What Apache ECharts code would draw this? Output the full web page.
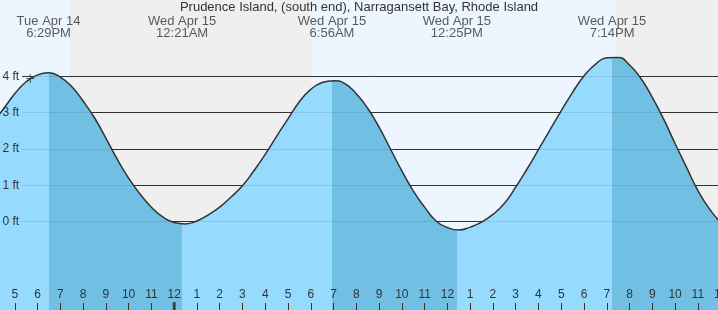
<!DOCTYPE html>
<html>
<head>
<meta charset="utf-8">
<script src="https://cdn.jsdelivr.net/npm/echarts@6/dist/echarts.min.js"></script>
<style>
html,body{margin:0;padding:0;background:#efefef;}
#chart{width:718px;height:310px;}
</style>
</head>
<body>
<div id="chart"></div>
<script>
// x values are hours since 4 PM, Tue Apr 14 (half-hour readings)
const titleText = 'Prudence Island, (south end), Narragansett Bay, Rhode Island';
const tideHours = [0, 0.5, 1, 1.5, 2, 2.5, 3, 3.5, 4, 4.5, 5, 5.5, 6, 6.5, 7, 7.5, 8, 8.5, 9, 9.5,
  10, 10.5, 11, 11.5, 12, 12.5, 13, 13.5, 14, 14.5, 15, 15.5, 16, 16.5, 17, 17.5, 18, 18.5, 19, 19.5,
  20, 20.5, 21, 21.5, 22, 22.5, 23, 23.5, 24, 24.5, 25, 25.5, 26, 26.5, 27, 27.5, 28, 28.5, 29, 29.5,
  30, 30.5, 31, 31.5, 32];
const tideFeet = [2.70, 3.10, 3.52, 3.85, 4.04, 4.10, 3.98, 3.72, 3.32, 2.86, 2.30, 1.72, 1.20, 0.76, 0.40, 0.13, -0.02, -0.06, 0.02, 0.19,
  0.40, 0.68, 0.99, 1.40, 1.85, 2.35, 2.83, 3.30, 3.64, 3.83, 3.88, 3.80, 3.52, 3.12, 2.60, 2.00, 1.40, 0.85, 0.40, 0.02,
  -0.16, -0.23, -0.15, -0.01, 0.20, 0.50, 0.95, 1.45, 1.98, 2.52, 3.05, 3.56, 4.01, 4.33, 4.51, 4.52, 4.31, 3.94, 3.42, 2.82,
  2.15, 1.50, 0.86, 0.36, -0.02];
const extremeHours = [2.483, 8.35, 14.933, 20.417, 27.233];
const extremeKinds = ['high', 'low', 'high', 'low', 'high'];
const extremeDays  = ['Tue Apr 14', 'Wed Apr 15', 'Wed Apr 15', 'Wed Apr 15', 'Wed Apr 15'];
const extremeTimes = ['6:29PM', '12:21AM', '6:56AM', '12:25PM', '7:14PM'];
const daylight = [[0, 3.38], [14.05, 27.42]];   // until sunset, then sunrise – sunset
const feetTicks = [0, 1, 2, 3, 4];
const midnightHours = [8];
const nowMarker = [1.68, 3.94];

const X_MIN = 0, X_MAX = 32, Y_MIN = -2.429, Y_MAX = 6.099;
const LIGHT = '#96dbfe', DARK = '#71c0e4', DAYBG = '#edf6fe', NIGHTBG = '#efefef', INK = '#333333';

const pieces = [];
let prev = X_MIN;
extremeHours.forEach((h, i) => {
  pieces.push({ gte: prev, lt: h, color: extremeKinds[i] === 'high' ? LIGHT : DARK });
  prev = h;
});
pieces.push({ gte: prev, lte: X_MAX, color: extremeKinds[extremeKinds.length - 1] === 'high' ? DARK : LIGHT });

const tideData = tideHours.map((h, i) => [h, tideFeet[i]]);
const LINE_START = 1.32;

const chart = echarts.init(document.getElementById('chart'), null, { renderer: 'canvas' });
chart.setOption({
  animation: false,
  backgroundColor: NIGHTBG,
  textStyle: { fontFamily: 'Liberation Sans, Arial, sans-serif' },
  title: {
    text: titleText, left: 'center', top: 1, padding: 0,
    textStyle: { fontSize: 13, fontWeight: 'normal', color: INK, fontFamily: 'Liberation Sans, Arial, sans-serif' }
  },
  grid: { left: -8, right: -2.6, top: 0, bottom: 0, containLabel: false, outerBoundsMode: 'none' },
  xAxis: {
    type: 'value', min: X_MIN, max: X_MAX, interval: 1,
    axisLine: { show: false, onZero: false },
    axisTick: { show: true, inside: true, length: 7, lineStyle: { color: INK, width: 1 } },
    axisLabel: {
      inside: true, margin: 9, fontSize: 12, color: INK,
      showMinLabel: true, showMaxLabel: true, hideOverlap: false,
      formatter: v => { const hr = (16 + Math.round(v)) % 12; return String(hr === 0 ? 12 : hr); }
    },
    splitLine: { show: false }, z: 10
  },
  yAxis: {
    type: 'value', min: Y_MIN, max: Y_MAX,
    axisLine: { show: false }, axisTick: { show: false }, axisLabel: { show: false }, splitLine: { show: false }
  },
  visualMap: {
    show: false, type: 'piecewise', dimension: 0, seriesIndex: 1, pieces: pieces
  },
  series: [
    {
      type: 'line', data: [], silent: true,
      markArea: {
        silent: true, z: 0,
        itemStyle: { color: DAYBG },
        data: daylight.map(d => [{ xAxis: d[0] }, { xAxis: d[1] }])
      },
      markLine: {
        silent: true, z: 1, symbol: ['none', 'none'], animation: false,
        lineStyle: { color: INK, width: 1, type: 'solid' },
        label: { show: false },
        data: feetTicks.map(v => [{ coord: [LINE_START, v] }, { coord: [X_MAX, v] }])
      }
    },
    {
      type: 'line', data: tideData, smooth: 0.5, showSymbol: false, symbol: 'none', z: 2,
      lineStyle: { color: INK, width: 1.5 },
      areaStyle: { opacity: 1, origin: 'start' }
    },
    {
      type: 'line', data: [], silent: true,
      markLine: {
        silent: true, z: 3, symbol: ['none', 'none'], animation: false,
        lineStyle: { color: 'rgba(40,40,40,0.12)', width: 1, type: 'solid' },
        label: { show: true, position: 'start', distance: 3, fontSize: 12, color: INK, formatter: p => p.data.name },
        data: feetTicks.map(v => [{ coord: [LINE_START, v], name: v + ' ft' }, { coord: [X_MAX, v] }])
      }
    },
    {
      type: 'scatter', z: 4, silent: true, symbolSize: 0,
      data: extremeHours.map((h, i) => ({ value: [h, Y_MAX], name: extremeDays[i] + '\n' + extremeTimes[i] })),
      label: {
        show: true, position: 'bottom', distance: 15, fontSize: 13, lineHeight: 12, color: INK,
        formatter: p => p.name
      }
    },
    {
      type: 'scatter', z: 11, silent: true,
      symbol: 'rect', symbolSize: [3, 8], symbolOffset: [0, -4],
      itemStyle: { color: INK },
      data: midnightHours.map(h => [h, Y_MIN])
    },
    {
      type: 'scatter', z: 5, silent: true,
      symbol: 'path://M0,5L10,5M5,0L5,10', symbolSize: [8, 9],
      itemStyle: { color: 'none', borderColor: INK, borderWidth: 1 },
      data: [nowMarker]
    }
  ]
});
</script>
</body>
</html>
